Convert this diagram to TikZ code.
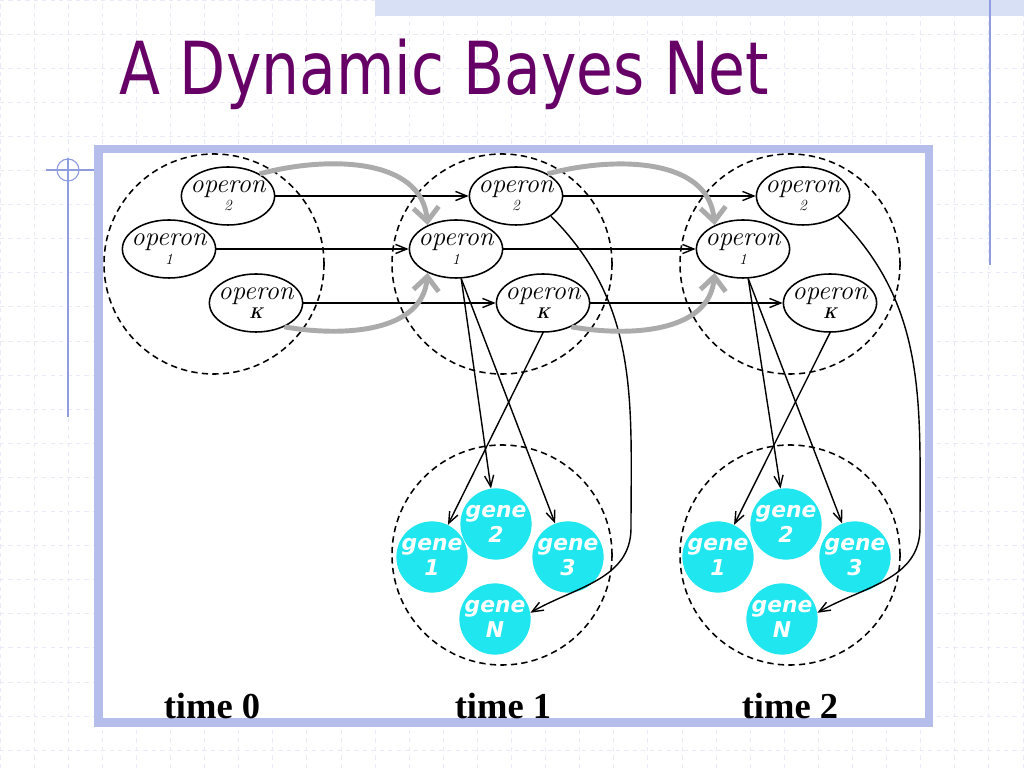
\documentclass[tikz,border=0pt]{standalone}
\usepackage{fontspec}
\usepackage{graphicx}
\usetikzlibrary{shapes.geometric,arrows.meta}
\newfontfamily\titlefont{DejaVu Sans}
\newfontfamily\timefont{Liberation Serif}
\newfontfamily\genefont{DejaVu Sans}
\definecolor{slidegrid}{HTML}{E8EAF8}
\definecolor{slideband}{HTML}{D8E0F5}
\definecolor{slideline}{HTML}{8E9DE0}
\definecolor{panelrim}{HTML}{B5BDEA}
\definecolor{titlepurple}{HTML}{660066}
\definecolor{genecyan}{HTML}{20E6EF}
\definecolor{flowgray}{HTML}{ABABAB}

\begin{document}
\begin{tikzpicture}[x=0.025cm,y=0.025cm]
		\tikzset{operon/.style = {ellipse, draw, line width=1.1pt, minimum width=2.33cm, minimum height=1.45cm, inner xsep=-5pt, inner ysep=0pt, align=center, font=\fontsize{19}{13}\selectfont\itshape}}
		\tikzset{gene/.style = {circle, fill=genecyan, minimum size=1.74cm, inner sep=0pt, align=center, text=white, font=\genefont\fontsize{15.5}{18}\selectfont\bfseries\itshape}}
		\tikzset{cluster/.style = {circle, draw, line width=1.1pt, dash pattern=on 4.5pt off 3pt, minimum size=5.5cm, inner sep=0pt}}
		\tikzset{edge/.style = {-{Straight Barb[length=8pt,width=6.5pt]}, line width=1pt}}
		
		\useasboundingbox (0,0) rectangle (1024,768);
		
		% slide background
		\fill[white] (0,0) rectangle (1024,768);
		\foreach \i in {0,...,30}
			\draw[slidegrid, dashed, line width=0.6pt] (\i*34.1,0) -- (\i*34.1,768);
		\foreach \j in {0,...,22}
			\draw[slidegrid, dashed, line width=0.6pt] (0,768-\j*34.1) -- (1024,768-\j*34.1);
		\fill[slideband] (375,752) rectangle (1024,768);
		\draw[slideline, line width=1pt] (990,768) -- (990,503);
		\draw[slideline, line width=0.8pt] (68,598) circle[radius=11];
		\draw[slideline, line width=0.8pt] (46,598) -- (95,598);
		\draw[slideline, line width=1pt] (68,610) -- (68,351);
		
		\node[anchor=base west, text=titlepurple, font=\titlefont\fontsize{52}{52}\selectfont] (title) at (115,673) {\scalebox{0.82}[1]{A Dynamic Bayes Net}};
		
		\draw[panelrim, line width=0.2125cm, fill=white] (98.5,45.5) rectangle (929,619);
		
		% time slices
		\node[cluster] (cl0) at (214,504) {};
		\node[cluster] (cl1) at (502,504) {};
		\node[cluster] (cl2) at (790,504) {};
		\node[cluster] (gc1) at (502,213) {};
		\node[cluster] (gc2) at (790,213) {};
		
		\node[operon] (op02) at (228,572) {operon\\{\fontsize{11}{11}\selectfont 2}};
		\node[operon] (op01) at (169,519) {operon\\{\fontsize{11}{11}\selectfont 1}};
		\node[operon] (op0K) at (256,465) {operon\\{\fontsize{11}{11}\selectfont\bfseries K}};
		\node[operon] (op12) at (516,572) {operon\\{\fontsize{11}{11}\selectfont 2}};
		\node[operon] (op11) at (456,519) {operon\\{\fontsize{11}{11}\selectfont 1}};
		\node[operon] (op1K) at (543,465) {operon\\{\fontsize{11}{11}\selectfont\bfseries K}};
		\node[operon] (op22) at (803,572) {operon\\{\fontsize{11}{11}\selectfont 2}};
		\node[operon] (op21) at (743,519) {operon\\{\fontsize{11}{11}\selectfont 1}};
		\node[operon] (op2K) at (830,465) {operon\\{\fontsize{11}{11}\selectfont\bfseries K}};
		
		\node[gene] (ge11) at (432,211) {gene\\1};
		\node[gene] (ge12) at (496,244) {gene\\2};
		\node[gene] (ge13) at (568,211) {gene\\3};
		\node[gene] (ge1N) at (495,149) {gene\\N};
		\node[gene] (ge21) at (718,211) {gene\\1};
		\node[gene] (ge22) at (786,244) {gene\\2};
		\node[gene] (ge23) at (855,211) {gene\\3};
		\node[gene] (ge2N) at (782,149) {gene\\N};
		
		\node[anchor=base, font=\timefont\fontsize{26}{26}\selectfont\bfseries] (tm0) at (212,49) {time 0};
		\node[anchor=base, font=\timefont\fontsize{26}{26}\selectfont\bfseries] (tm1) at (503,49) {time 1};
		\node[anchor=base, font=\timefont\fontsize{26}{26}\selectfont\bfseries] (tm2) at (790,49) {time 2};
		
		\coordinate (dr1) at (631,240);
		\coordinate (dr2) at (920,240);
		
		\draw[edge] (op02) -- (op12);
		\draw[edge] (op01) -- (op11);
		\draw[edge] (op0K) -- (op1K);
		\draw[edge] (op12) -- (op22);
		\draw[edge] (op11) -- (op21);
		\draw[edge] (op1K) -- (op2K);
		
		\draw[edge] (op11.-80) -- (ge12);
		\draw[edge] (op11.-80) -- (ge13);
		\draw[edge] (op1K.south) -- (ge11);
		\draw[edge] (op12.-30) to[out=-45,in=90] (dr1) to[out=-90,in=30] (ge1N.10);
		\draw[edge] (op21.-80) -- (ge22);
		\draw[edge] (op21.-80) -- (ge23);
		\draw[edge] (op2K.south) -- (ge21);
		\draw[edge] (op22.-30) to[out=-45,in=90] (dr2) to[out=-90,in=30] (ge2N.10);
		
		\tikzset{edge/.style = {-{Straight Barb[length=10pt,width=18pt]}, flowgray, line width=3.5pt}}
		\draw[edge] (op02.35) to[out=15,in=95] (op11.140);
		\draw[edge] (op0K.-40) to[out=-10,in=-95] (op11.-140);
		\draw[edge] (op12.35) to[out=15,in=95] (op21.140);
		\draw[edge] (op1K.-40) to[out=-10,in=-95] (op21.-140);
\end{tikzpicture}
\end{document}
